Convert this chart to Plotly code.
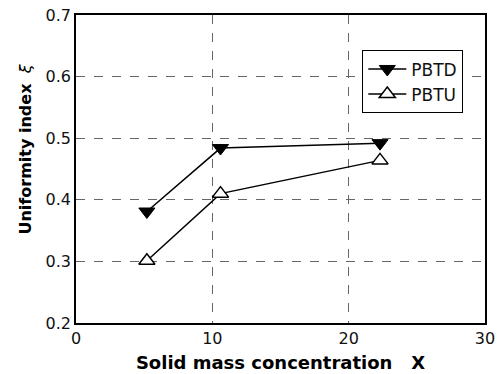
import plotly.graph_objects as go

x_vals = [5.2, 10.6, 22.3]
pbtd = [0.381, 0.484, 0.492]
pbtu = [0.301, 0.410, 0.464]
x_ticks = [0, 10, 20, 30]
y_ticks = [0.2, 0.3, 0.4, 0.5, 0.6, 0.7]

fig = go.Figure()
fig.add_trace(go.Scatter(
    x=x_vals, y=pbtd, name="PBTD", mode="lines+markers",
    line=dict(color="black", width=1.5),
    marker=dict(symbol="triangle-down", size=14, color="black",
                line=dict(color="black", width=1)),
))
fig.add_trace(go.Scatter(
    x=x_vals, y=pbtu, name="PBTU", mode="lines+markers",
    line=dict(color="black", width=1.5),
    marker=dict(symbol="triangle-up", size=14, color="white",
                line=dict(color="black", width=1.5)),
))

font_fam = "DejaVu Sans"
fig.update_layout(
    width=503, height=374,
    margin=dict(l=76, r=18, t=15, b=51),
    paper_bgcolor="white", plot_bgcolor="white",
    font=dict(family=font_fam, size=16, color="#111111"),
    showlegend=True,
    legend=dict(x=0.70, y=0.885, xanchor="left", yanchor="top",
                bordercolor="black", borderwidth=1, bgcolor="white",
                font=dict(size=17), tracegroupgap=0,
                itemwidth=38),
    xaxis=dict(range=[0, 30], tickvals=x_ticks, ticks="", showline=True,
               linecolor="black", linewidth=1.5, mirror=True,
               showgrid=True, gridcolor="#666666", griddash="dash",
               gridwidth=1, zeroline=False, automargin=False,
               tickfont=dict(size=16),
               title=dict(text="<b>Solid mass concentration&nbsp;&nbsp;&nbsp;X</b>",
                          font=dict(size=18, color="black"), standoff=9)),
    yaxis=dict(range=[0.2, 0.7], tickvals=y_ticks, tickformat=".1f",
               ticks="", showline=True,
               linecolor="black", linewidth=1.5, mirror=True,
               showgrid=True, gridcolor="#666666", griddash="dash",
               gridwidth=1, zeroline=False, automargin=False,
               tickfont=dict(size=16),
               title=dict(text="<b>&nbsp;&nbsp;&nbsp;&nbsp;&nbsp;&nbsp;&nbsp;Uniformity index</b>&nbsp;&nbsp;<i>ξ</i>",
                          font=dict(size=16, color="black"), standoff=10)),
)

fig.write_html("out.html")
